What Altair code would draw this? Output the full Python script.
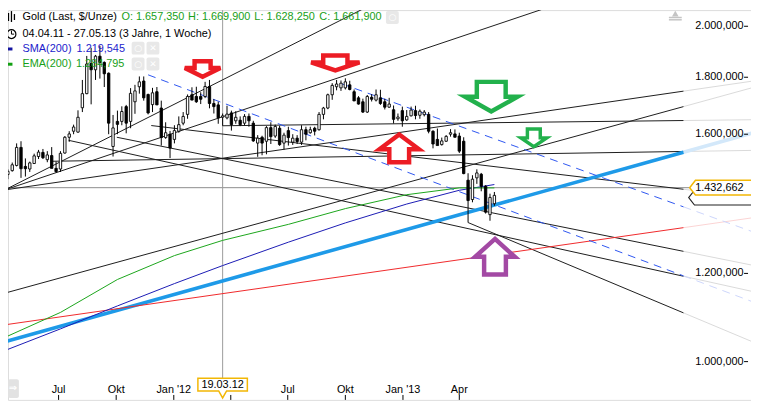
import math
import altair as alt
import pandas as pd

FONT = "Liberation Sans"

# ---- calibration (pixels) ----
PX_PER_WEEK = 4.49        # distance between weekly candles
FIRST_CANDLE_X = -1.7     # pixel x of the 04.04.11 candle
PX_PER_LN = 489.0         # pixels per unit of ln(price)
Y_OF_1000 = 363.3         # pixel y of the 1.000,000 level
MARGIN = 8
W, H = 751, 394

T0 = pd.Timestamp("2011-04-04")


def x_to_ms(X):
    t = T0 + pd.Timedelta(days=(X - FIRST_CANDLE_X) / PX_PER_WEEK * 7.0)
    return int(t.value // 10**6)


def y_to_price(Y):
    return 1000.0 * math.exp((Y_OF_1000 - Y) / PX_PER_LN)


X_DOMAIN = [x_to_ms(MARGIN), x_to_ms(MARGIN + W)]
Y_DOMAIN = [y_to_price(MARGIN + H), y_to_price(MARGIN)]

# ---------------- weekly candles (Gold, $/Unze) ----------------
week_start = "2011-04-04"
opens = [1430, 1472, 1484, 1500, 1557, 1497, 1489, 1506, 1528, 1541, 1518, 1531, 1491, 1489, 1539, 1590,
         1610, 1607, 1690, 1740, 1852, 1828, 1880, 1856, 1815, 1560, 1643, 1643, 1694, 1643, 1711, 1765,
         1786, 1737, 1701, 1747, 1689, 1589, 1600, 1583, 1610, 1637, 1667, 1736, 1730, 1730, 1730, 1766,
         1705, 1700, 1657.35, 1655, 1672, 1645, 1647, 1637, 1660, 1637, 1571, 1590, 1577, 1622, 1594, 1620,
         1571, 1612, 1574, 1587, 1574, 1615, 1605, 1620, 1615, 1667, 1689, 1736, 1765, 1761, 1761, 1772,
         1747, 1725, 1711, 1675, 1727, 1717, 1725, 1711, 1692, 1683, 1652, 1680, 1648, 1662, 1680, 1664,
         1666, 1667, 1610, 1583, 1566, 1577, 1600, 1601, 1594, 1577, 1455, 1398, 1462, 1473, 1437, 1355,
         1386]
highs = [1476, 1488, 1509, 1570, 1577, 1522, 1512, 1537, 1549, 1552, 1545, 1558, 1512, 1545, 1594, 1610,
         1632, 1681, 1790, 1881, 1913, 1885, 1921, 1860, 1818, 1665, 1680, 1695, 1700, 1760, 1772, 1803,
         1803, 1740, 1761, 1764, 1715, 1640, 1611, 1630, 1660, 1675, 1737, 1763, 1765, 1745, 1783, 1790,
         1720, 1711, 1669.9, 1697, 1680, 1678, 1660, 1668, 1670, 1645, 1597, 1595, 1627, 1640, 1632, 1628,
         1605, 1625, 1600, 1597, 1630, 1625, 1625, 1625, 1675, 1693, 1740, 1778, 1790, 1788, 1796, 1787,
         1755, 1731, 1722, 1735, 1738, 1755, 1754, 1722, 1725, 1698, 1670, 1694, 1682, 1694, 1697, 1684,
         1682, 1675, 1613, 1619, 1589, 1597, 1617, 1616, 1605, 1590, 1476, 1470, 1488, 1477, 1440, 1415,
         1420]
lows = [1427, 1458, 1481, 1497, 1462, 1466, 1480, 1505, 1520, 1520, 1510, 1497, 1478, 1480, 1537, 1575,
        1600, 1605, 1675, 1738, 1702, 1790, 1795, 1764, 1600, 1528, 1600, 1630, 1603, 1620, 1669, 1740,
        1715, 1667, 1675, 1703, 1563, 1585, 1523, 1570, 1605, 1630, 1652, 1719, 1707, 1703, 1724, 1688,
        1670, 1635, 1628.25, 1650, 1612, 1635, 1627, 1630, 1625, 1575, 1527, 1532, 1535, 1568, 1588, 1562,
        1550, 1563, 1565, 1568, 1565, 1580, 1602, 1596, 1612, 1650, 1685, 1718, 1752, 1750, 1755, 1752,
        1718, 1701, 1672, 1672, 1712, 1712, 1700, 1684, 1690, 1636, 1645, 1625, 1645, 1660, 1650, 1652,
        1660, 1603, 1554, 1565, 1563, 1575, 1592, 1590, 1539, 1473, 1333, 1390, 1444, 1422, 1358, 1338,
        1380]
closes = [1474, 1482, 1502, 1557, 1490, 1490, 1508, 1530, 1542, 1524, 1533, 1491, 1481, 1538, 1590, 1601,
          1624, 1657, 1740, 1850, 1828, 1880, 1856, 1813, 1637, 1621, 1633, 1677, 1637, 1741, 1750, 1783,
          1725, 1672, 1743, 1700, 1589, 1605, 1555, 1612, 1632, 1660, 1730, 1717, 1711, 1720, 1766, 1705,
          1694, 1655, 1661.9, 1668, 1632, 1657, 1632, 1660, 1645, 1578, 1587, 1571, 1622, 1592, 1626, 1566,
          1597, 1589, 1587, 1576, 1615, 1600, 1615, 1610, 1667, 1689, 1736, 1770, 1775, 1778, 1783, 1755,
          1714, 1703, 1675, 1730, 1720, 1736, 1705, 1692, 1703, 1650, 1658, 1645, 1660, 1682, 1663, 1678,
          1675, 1610, 1568, 1563, 1578, 1593, 1605, 1590, 1545, 1475, 1395, 1458, 1477, 1437, 1362, 1404,
          1410]
candle_dates = pd.date_range(week_start, periods=len(opens), freq="7D").strftime("%Y-%m-%d").tolist()

# ---------------- moving averages ----------------
ma_dates = ["2011-04-04", "2011-07-04", "2011-10-03", "2012-01-02", "2012-03-19", "2012-07-02",
            "2012-10-01", "2013-01-07", "2013-04-01", "2013-05-27"]
sma_values = [1022, 1070, 1122, 1175, 1219.545, 1280, 1332, 1385, 1425, 1442]
ema_values = [1050, 1107, 1185, 1245, 1284.795, 1328, 1372, 1412, 1432, 1432]

# ---------------- drawn trend lines ----------------
line_ids = ["L1", "L2", "La", "Lb", "Lc", "Ld", "Le", "Lg", "Lh", "Li", "TB", "R", "D1", "D2"]
line_start_dates = ["2011-04-06", "2011-04-06", "2011-04-06", "2011-04-06", "2012-03-19", "2011-06-19",
                    "2011-11-26", "2011-10-02", "2011-07-17", "2013-04-15", "2011-04-06", "2011-04-06",
                    "2011-11-21", "2012-09-25"]
line_start_prices = [1426, 1426, 1426, 1152, 1628.25, 1513, 1629, 1590, 1580, 1333, 1042, 1079, 1809, 1776]
line_end_date = "2014-03-25"
line_end_prices = [2897, 2285, 1749, 1694, 1646, 1544, 1428, 1256, 1193, 1106, 1541.5, 1319, 1194, 1377]
line_kinds = ["black"] * 10 + ["blue", "red", "dash", "dash"]
ext_end_date = "2014-07-15"

kind_style = {  # main colour, faded colour, width
    "black": ("#1c1c1c", "#dadada", 1.0),
    "blue": ("#1e9ae8", "#d3e8fa", 3.6),
    "red": ("#f0282a", "#fbd3d3", 1.0),
    "dash": ("#2d55f0", "#ccd6fb", 1.0),
}

hline_price = 1432.662
cursor_date = "2012-03-19"

# ---------------- arrows ----------------
arrow_dates = ["2012-02-16", "2012-09-15", "2012-12-26", "2013-05-22", "2013-07-29", "2013-05-28"]
arrow_prices = [1831, 1854, 1554, 1729, 1588, 1242]
arrow_colors = ["#ec1c24", "#ec1c24", "#ec1c24", "#22b14c", "#22b14c", "#a349a4"]
arrow_paths = [
    "M -0.45,-0.44 L 0.45,-0.44 L 0.45,-0.05 L 1,-0.05 L 0,0.44 L -1,-0.05 L -0.45,-0.05 Z",
    "M -0.5,-0.31 L 0.5,-0.31 L 0.5,-0.02 L 1,-0.02 L 0,0.31 L -1,-0.02 L -0.5,-0.02 Z",
    "M 0,-0.7 L 1,0.05 L 0.5,0.05 L 0.5,0.7 L -0.5,0.7 L -0.5,0.05 L -1,0.05 Z",
    "M -0.55,-0.566 L 0.55,-0.566 L 0.55,0 L 1,0 L 0,0.566 L -1,0 L -0.55,0 Z",
    "M -0.5,-0.69 L 0.5,-0.69 L 0.5,0 L 1,0 L 0,0.69 L -1,0 L -0.5,0 Z",
    "M 0,-0.9 L 1,0 L 0.55,0 L 0.55,0.9 L -0.55,0.9 L -0.55,0 L -1,0 Z",
]
arrow_sizes = [1296, 2401, 1600, 2809, 676, 1600]
arrow_strokes = [4.5, 4.5, 4.5, 4.5, 3.5, 4.5]

# ---------------- axes ----------------
y_tick_prices = [2000, 1800, 1600, 1400, 1200, 1000]
y_tick_labels = ["2.000,000", "1.800,000", "1.600,000", "1.400,000", "1.200,000", "1.000,000"]
x_tick_dates = ["2011-07-01", "2011-10-01", "2012-01-01", "2012-04-01", "2012-07-01", "2012-10-01",
                "2013-01-01", "2013-04-01"]
x_tick_labels = ["Jul", "Okt", "Jan '12", "", "Jul", "Okt", "Jan '13", "Apr"]

GREEN_TXT = "#18a018"
BLUE_TXT = "#1c1ccc"

# =====================================================================
xs = alt.Scale(domain=X_DOMAIN, nice=False)
ys = alt.Scale(type="log", domain=Y_DOMAIN, nice=False)
ONE = pd.DataFrame({"a": [0]})


def X(field):
    return alt.X(field, scale=xs, axis=None)


def Y(field):
    return alt.Y(field, scale=ys, axis=None)


def label(px, py, text, color="#000000", align="left", size=11, font=FONT, weight="normal"):
    return alt.Chart(ONE).mark_text(text=text, align=align, baseline="middle", font=font,
                                    fontSize=size, color=color, fontWeight=weight).encode(
        x=alt.value(px), y=alt.value(py))


def box(x1, x2, y1, y2, color, radius=0):
    return alt.Chart(ONE).mark_rect(color=color, cornerRadius=radius).encode(
        x=alt.value(x1), x2=alt.value(x2), y=alt.value(y1), y2=alt.value(y2))


def seg(x1, x2, y1, y2, color, width=1.0):
    return alt.Chart(ONE).mark_rule(color=color, strokeWidth=width).encode(
        x=alt.value(x1), x2=alt.value(x2), y=alt.value(y1), y2=alt.value(y2))


def ms(d):
    return pd.Timestamp(d).value / 1e6


layers = []

# horizontal line and cursor line
layers.append(alt.Chart(pd.DataFrame({"price": [hline_price]})).mark_rule(color="#8c8c8c", strokeWidth=1).encode(
    y=Y("price:Q"), x=alt.value(0), x2=alt.value(689)))
layers.append(alt.Chart(pd.DataFrame({"date": [cursor_date]})).mark_rule(color="#9c9c9c", strokeWidth=1).encode(
    x=X("date:T"), y=alt.value(0), y2=alt.value(372)))

# trend lines
solid_rows, dash_rows = [], []
for lid, d1, p1, p2, kind in zip(line_ids, line_start_dates, line_start_prices, line_end_prices, line_kinds):
    main_c, ext_c, w = kind_style[kind]
    t1, t2, t3 = ms(d1), ms(line_end_date), ms(ext_end_date)
    p3 = math.exp(math.log(p2) + (math.log(p2) - math.log(p1)) * (t3 - t2) / (t2 - t1))
    rows = dash_rows if kind == "dash" else solid_rows
    rows.append({"id": lid + "e", "date": line_end_date, "price": p2, "color": ext_c, "w": w})
    rows.append({"id": lid + "e", "date": ext_end_date, "price": p3, "color": ext_c, "w": w})
    rows.append({"id": lid + "m", "date": d1, "price": p1, "color": main_c, "w": w})
    rows.append({"id": lid + "m", "date": line_end_date, "price": p2, "color": main_c, "w": w})

solid_df = pd.DataFrame(solid_rows)
dash_df = pd.DataFrame(dash_rows)
layers.append(alt.Chart(solid_df).mark_line(clip=True).encode(
    x=X("date:T"), y=Y("price:Q"), detail="id:N",
    color=alt.Color("color:N", scale=None), strokeWidth=alt.StrokeWidth("w:Q", scale=None)))
layers.append(alt.Chart(dash_df).mark_line(clip=True, strokeDash=[8, 6]).encode(
    x=X("date:T"), y=Y("price:Q"), detail="id:N",
    color=alt.Color("color:N", scale=None), strokeWidth=alt.StrokeWidth("w:Q", scale=None)))

# moving averages
ma_df = pd.DataFrame({
    "date": ma_dates + ma_dates,
    "value": sma_values + ema_values,
    "series": ["SMA"] * len(ma_dates) + ["EMA"] * len(ma_dates),
    "color": ["#1a1ab4"] * len(ma_dates) + ["#1aa51a"] * len(ma_dates),
})
layers.append(alt.Chart(ma_df).mark_line(clip=True, strokeWidth=1).encode(
    x=X("date:T"), y=Y("value:Q"), detail="series:N", color=alt.Color("color:N", scale=None)))

# candles
candles = pd.DataFrame({"date": candle_dates, "open": opens, "high": highs, "low": lows, "close": closes})
layers.append(alt.Chart(candles).mark_rule(color="black", strokeWidth=1, clip=True).encode(
    x=X("date:T"), y=Y("low:Q"), y2="high:Q"))
layers.append(alt.Chart(candles).mark_bar(width=2.4, stroke="black", strokeWidth=0.9, clip=True).encode(
    x=X("date:T"), y=Y("open:Q"), y2="close:Q",
    fill=alt.condition("datum.close >= datum.open", alt.value("white"), alt.value("black"))))

# arrows
arrows = pd.DataFrame({"date": arrow_dates, "price": arrow_prices, "color": arrow_colors,
                       "path": arrow_paths, "size": arrow_sizes, "sw": arrow_strokes})
layers.append(alt.Chart(arrows).mark_point(filled=True, fill="white", opacity=1, fillOpacity=1,
                                           strokeOpacity=1, strokeJoin="miter").encode(
    x=X("date:T"), y=Y("price:Q"),
    shape=alt.Shape("path:N", scale=None), size=alt.Size("size:Q", scale=None),
    stroke=alt.Stroke("color:N", scale=None), strokeWidth=alt.StrokeWidth("sw:Q", scale=None)))

# right price axis
yt = pd.DataFrame({"price": y_tick_prices, "label": y_tick_labels})
layers.append(alt.Chart(yt).mark_text(align="right", baseline="middle", font=FONT, fontSize=11,
                                      color="#000000").encode(
    y=Y("price:Q"), x=alt.value(743.5), text="label:N"))
layers.append(alt.Chart(yt).mark_rule(color="#000000", strokeWidth=1).encode(
    y=Y("price:Q"), x=alt.value(744), x2=alt.value(748)))

# price labels at the right (last price label mostly hidden behind the line label)
LABEL_PATH = "M -1,0 L -0.82,-0.23 L 1,-0.23 L 1,0.23 L -0.82,0.23 Z"
last_label = pd.DataFrame({"price": [1403.5]})
layers.append(alt.Chart(last_label).mark_point(shape=LABEL_PATH, size=4225, filled=True, fill="white",
                                               stroke="#222222", strokeWidth=1.2, opacity=1).encode(
    y=Y("price:Q"), x=alt.value(720.5)))
hl = pd.DataFrame({"price": [hline_price], "t": ["1.432,662"]})
layers.append(alt.Chart(hl).mark_point(shape=LABEL_PATH, size=4225, filled=True, fill="white",
                                       stroke="#f2b705", strokeWidth=1.5, opacity=1).encode(
    y=Y("price:Q"), x=alt.value(721.5)))
layers.append(alt.Chart(hl).mark_text(align="right", baseline="middle", font=FONT, fontSize=11,
                                      color="#000000").encode(
    y=Y("price:Q"), x=alt.value(743.5), text="t:N"))

# time axis
xt = pd.DataFrame({"date": x_tick_dates, "label": x_tick_labels})
layers.append(alt.Chart(xt).mark_text(align="center", baseline="middle", font=FONT, fontSize=11,
                                      color="#000000").encode(
    x=X("date:T"), y=alt.value(383.7), text="label:N"))
layers.append(alt.Chart(xt).mark_rule(color="#000000", strokeWidth=1).encode(
    x=X("date:T"), y=alt.value(389), y2=alt.value(394)))

DATE_PATH = "M -1,-0.26 L 1,-0.26 L 1,0.26 L 0.16,0.26 L 0,0.54 L -0.16,0.26 L -1,0.26 Z"
cur = pd.DataFrame({"date": [cursor_date], "t": ["19.03.12"]})
layers.append(alt.Chart(cur).mark_point(shape=DATE_PATH, size=2500, filled=True, fill="white",
                                        stroke="#f2b705", strokeWidth=1.5, opacity=1).encode(
    x=X("date:T"), y=alt.value(378.5)))
layers.append(alt.Chart(cur).mark_text(align="center", baseline="middle", font=FONT, fontSize=11,
                                       color="#000000").encode(
    x=X("date:T"), y=alt.value(378.5), text="t:N"))

# bottom-left button and top-right icon
layers.append(box(0, 11, 373, 392, "#e2e2e2", 2))
layers.append(label(5, 382.5, "⇒", "#ffffff", "center", 10, "DejaVu Sans", "bold"))
layers.append(alt.Chart(ONE).mark_point(shape="triangle-up", size=45, filled=True, color="#c4c4c4",
                                        opacity=1).encode(x=alt.value(674.5), y=alt.value(3.5)))
layers.append(seg(668, 681, 7.5, 7.5, "#c4c4c4", 1.5))
layers.append(seg(668, 681, 9.8, 9.8, "#c4c4c4", 1.5))

# legend
layers.append(seg(0.5, 0.5, 3, 11, "#000000", 1.3))
layers.append(seg(3.5, 3.5, 1, 12, "#000000", 1.3))
layers.append(seg(6.5, 6.5, 4, 10, "#000000", 1.3))
layers.append(alt.Chart(ONE).mark_point(shape="circle", size=80, filled=False, color="#000000",
                                        strokeWidth=1.2, opacity=1).encode(x=alt.value(3.5), y=alt.value(24.3)))
layers.append(seg(3.5, 3.5, 20.8, 24.3, "#000000", 1))
layers.append(seg(3.5, 6.2, 24.3, 24.3, "#000000", 1))
layers.append(seg(0, 4.5, 39.3, 39.3, "#1414a0", 3))
layers.append(seg(0, 4.5, 54.7, 54.7, "#12a012", 3))

legend_texts = [
    (14.7, 7, "Gold (Last, $/Unze)", "#000000"),
    (114.7, 7, "O: 1.657,350", GREEN_TXT),
    (182, 7, "H: 1.669,900", GREEN_TXT),
    (249, 7, "L: 1.628,250", GREEN_TXT),
    (314.7, 7, "C: 1.661,900", GREEN_TXT),
    (14.7, 24.3, "04.04.11 - 27.05.13 (3 Jahre, 1 Woche)", "#000000"),
    (14.7, 39.3, "SMA(200)", BLUE_TXT),
    (69.3, 39.3, "1.219,545", BLUE_TXT),
    (14.7, 54.7, "EMA(200)", GREEN_TXT),
    (68.7, 54.7, "1.284,795", GREEN_TXT),
]
for px, py, t, c in legend_texts:
    layers.append(label(px, py, t, c))

for (x1, y1) in [(382, 1), (125, 32), (140, 32), (125, 48), (140, 48)]:
    layers.append(box(x1, x1 + 13, y1, y1 + 13, "#e8e8e8", 2))
for (cx, cy, g) in [(388.5, 7.5, "○"), (131.5, 38.5, "○"), (146.5, 38.5, "✕"), (131.5, 54.5, "○"),
                    (146.5, 54.5, "✕")]:
    layers.append(label(cx, cy, g, "#ffffff", "center", 9, "DejaVu Sans", "bold"))

chart = alt.layer(*layers).properties(
    width=W, height=H, autosize=alt.AutoSizeParams(type="none"), padding=0
).configure_view(stroke=None).configure(background="white")

chart.save("out.html", embed_options={"renderer": "svg", "actions": False})
